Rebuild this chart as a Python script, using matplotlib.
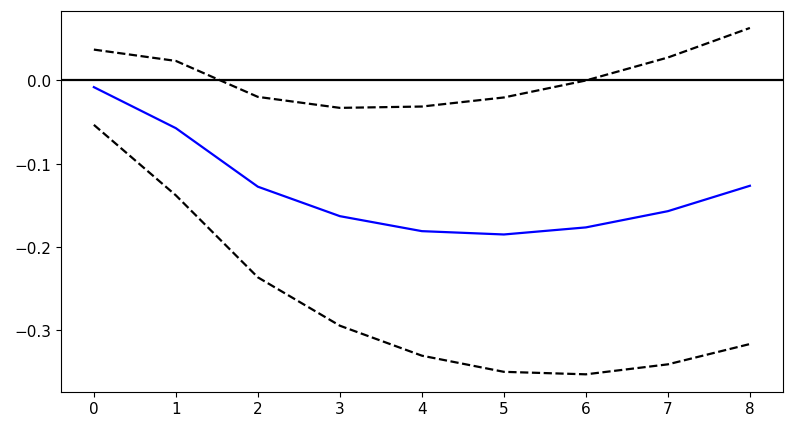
import numpy as np
import matplotlib
matplotlib.use('Agg')
import matplotlib.pyplot as plt

steps = [0, 1, 2, 3, 4, 5, 6, 7, 8]
irf = [-0.008, -0.0573, -0.1276, -0.163, -0.181, -0.185, -0.1765, -0.157, -0.1265]
upper = [0.0371, 0.0235, -0.0197, -0.0329, -0.0313, -0.0204, 0.0, 0.0276, 0.0631]
lower = [-0.0533, -0.138, -0.2365, -0.2946, -0.3306, -0.350, -0.353, -0.341, -0.3166]

fig = plt.figure(figsize=(7.93, 4.31), dpi=100)
ax = fig.add_axes([0.077, 0.089, 0.910, 0.884])

ax.plot(steps, irf, color='blue', linewidth=1.6)
ax.plot(steps, upper, 'k--', linewidth=1.6)
ax.plot(steps, lower, 'k--', linewidth=1.6)
ax.axhline(0, color='black', linewidth=1.6)

ax.set_yticks([0.0, -0.1, -0.2, -0.3])
ax.set_xticks(steps)
ax.tick_params(labelsize=11)

fig.savefig('out.png', dpi=100)
